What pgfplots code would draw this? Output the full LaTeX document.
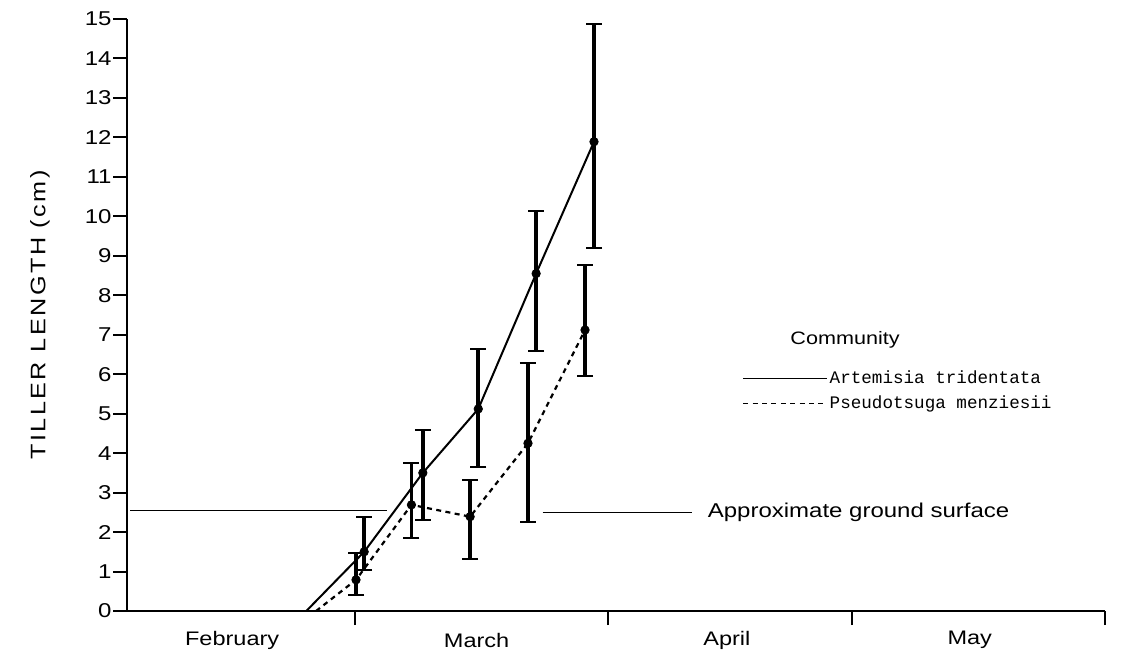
\documentclass[border=0pt]{standalone}
\usepackage{fontspec}
\setmainfont{Liberation Sans}[FakeStretch=1.2]
\newfontfamily\monofont{Liberation Mono}
\usepackage{pgfplots}
\usepackage{pgfplotstable}
\pgfplotsset{compat=1.18}

\pgfplotstableread{
x y ep em
29.1 1.50 0.89 0.45
36.3 3.50 1.09 1.19
43.1 5.12 1.51 1.48
50.2 8.55 1.59 1.96
57.3 11.89 2.98 2.70
}\artemisia
\pgfplotstableread{
x y
22.0 0
29.1 1.50
36.3 3.50
43.1 5.12
50.2 8.55
57.3 11.89
}\artemisialine
\pgfplotstableread{
x y ep em
28.1 0.79 0.69 0.38
34.9 2.69 1.05 0.85
42.1 2.39 0.93 1.08
49.2 4.25 2.03 1.99
56.2 7.12 1.65 1.17
}\pseudotsuga
\pgfplotstableread{
x y
23.2 0
28.1 0.79
34.9 2.69
42.1 2.39
49.2 4.25
56.2 7.12
}\pseudotsugaline

\begin{document}
\begin{tikzpicture}
\useasboundingbox (-63.5pt,-24pt) rectangle (500pt,305.5pt);
\begin{axis}[
  at={(0pt,0pt)}, anchor=south west,
  scale only axis, width=489pt, height=296pt,
  xmin=0, xmax=120, ymin=0, ymax=15,
  axis lines=left, axis line style={-, line width=1pt},
  clip=false,
  tick align=outside,
  major tick length=7pt,
  every tick/.style={black, line width=1pt},
  xtick={28,59,89,120}, xticklabels={},
  ytick={0,1,...,15},
  /pgf/number format/assume math mode=true,
  yticklabel style={font=\fontsize{10}{12}\selectfont, xshift=2.8pt},
  ylabel={\addfontfeature{LetterSpace=12}TILLER LENGTH (cm)},
  ylabel style={at={(axis description cs:-0.089,0.5)}, anchor=center, font=\fontsize{10.5}{12}\selectfont},
  legend style={at={(axis cs:75.5,6.15)}, anchor=north west, draw=none, fill=none,
    font=\monofont\fontsize{8.8}{10}\selectfont, inner sep=0pt, row sep=2.5pt,
    nodes={inner sep=1pt}},
  legend cell align=left,
  legend image code/.code={\draw[#1, line width=0.5pt] (0pt,0pt) -- (42pt,0pt);},
]
% ground surface lines
\addplot[black, line width=0.7pt, forget plot] coordinates {(0.4,2.55) (31.9,2.55)};
\addplot[black, line width=0.7pt, forget plot] coordinates {(51.0,2.5) (69.3,2.5)};

\addplot[black, line width=1pt] table[x=x,y=y] {\artemisialine};
\addlegendentry{Artemisia tridentata}
\addplot[black, line width=1.1pt, dash pattern=on 2.5pt off 2.2pt] table[x=x,y=y] {\pseudotsugaline};
\addlegendentry{Pseudotsuga menziesii}

\addplot[black, only marks, mark=*, mark size=2.1pt, forget plot,
  error bars/.cd, y dir=both, y explicit,
  error mark=|,
  error bar style={line width=1.8pt},
  error mark options={line width=1pt, mark size=4pt}]
  table[x=x,y=y,y error plus=ep,y error minus=em] {\artemisia};
\addplot[black, only marks, mark=*, mark size=2.1pt, forget plot,
  error bars/.cd, y dir=both, y explicit,
  error mark=|,
  error bar style={line width=1.8pt},
  error mark options={line width=1pt, mark size=4pt}]
  table[x=x,y=y,y error plus=ep,y error minus=em] {\pseudotsuga};

\node[font=\fontsize{9}{11}\selectfont] at (axis cs:88.1,6.87) {Community};
\node[anchor=west, font=\fontsize{10}{12}\selectfont] at (axis cs:70.4,2.5) {Approximate ground surface};
\node[font=\fontsize{9.8}{12}\selectfont] at ([yshift=-14.5pt]axis cs:12.9,0) {February};
\node[font=\fontsize{9.8}{12}\selectfont] at ([yshift=-14.5pt]axis cs:42.9,0) {March};
\node[font=\fontsize{9.8}{12}\selectfont] at ([yshift=-14.5pt]axis cs:73.6,0) {April};
\node[font=\fontsize{9.8}{12}\selectfont] at ([yshift=-14.5pt]axis cs:103.4,0) {May};
\end{axis}
\end{tikzpicture}
\end{document}
